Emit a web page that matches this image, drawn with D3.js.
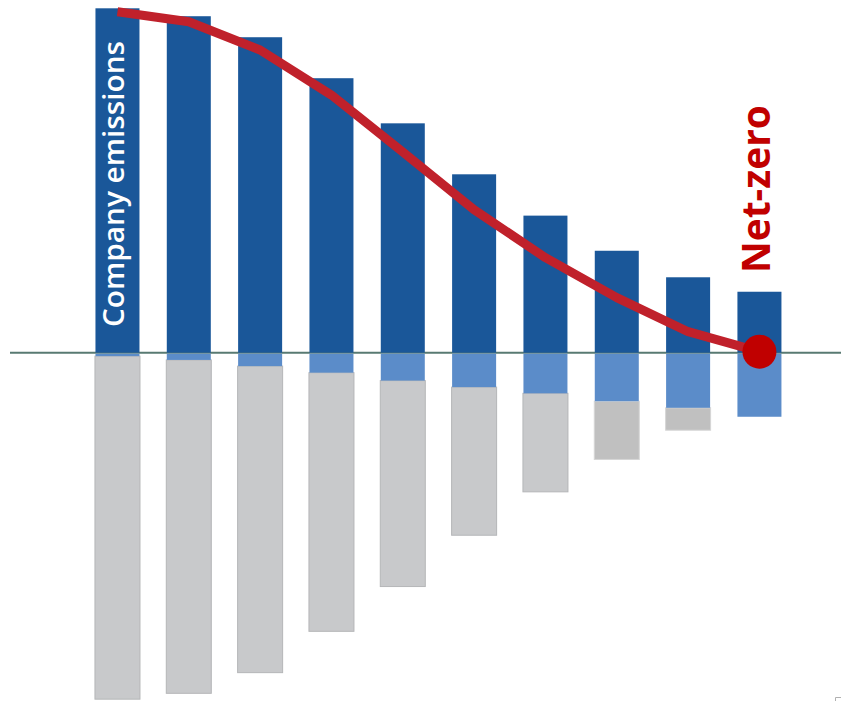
<!DOCTYPE html>
<html>
<head>
<meta charset="utf-8">
<script src="https://cdn.jsdelivr.net/npm/d3@7"></script>
<style>
  html, body { margin: 0; padding: 0; background: #ffffff; }
  svg { display: block; }
</style>
</head>
<body>
<svg id="chart" width="841" height="701"></svg>
<script>
// ---- data (units: first year's emissions = 100) ----
const years = ["Y1", "Y2", "Y3", "Y4", "Y5", "Y6", "Y7", "Y8", "Y9", "Y10"];
const companyEmissions = [100, 97.7, 91.6, 79.7, 66.6, 51.8, 39.8, 29.6, 21.9, 17.7];
const removals         = [1.0, 2.1, 3.9, 5.8, 8.1, 10.0, 11.8, 14.1, 16.0, 18.6];
const reductions       = [99.6, 96.8, 89.0, 75.1, 59.8, 43.0, 28.6, 16.9, 6.5, 0];
const netEmissions     = [99.0, 96.1, 87.9, 74.8, 58.3, 41.5, 27.6, 16.0, 6.1, 0.3];
const grossLabel = "Company emissions";
const netLabel = "Net-zero";

// ---- layout ----
const svg = d3.select("#chart");
const x = d3.scaleBand()
  .domain(years)
  .range([81.8, 795.1])
  .paddingInner(0.383)
  .paddingOuter(0.1915);
const y = d3.scaleLinear().domain([0, 100]).range([352.7, 8.3]);

const colDark = "#1a5799";
const colLight = "#5b8cc9";
const colGray = "#c8c9cb";
const colGrayAlt = "#c0c0c0";
const colRed = "#c0212b";
const colDot = "#c00000";

// baseline
svg.append("line")
  .attr("x1", 10).attr("x2", 841)
  .attr("y1", y(0)).attr("y2", y(0))
  .attr("stroke", "#587a72").attr("stroke-width", 2);

// gray reduction bars (below removals)
svg.append("g").selectAll("rect")
  .data(years.map((d, i) => ({ k: d, i, top: -removals[i], bot: -(removals[i] + reductions[i]) })))
  .join("rect")
  .filter(d => reductions[d.i] > 0)
  .attr("x", d => x(d.k) - 0.5)
  .attr("width", x.bandwidth() + 1)
  .attr("y", d => y(d.top))
  .attr("height", d => y(d.bot) - y(d.top))
  .attr("fill", d => d.i >= 7 ? colGrayAlt : colGray)
  .attr("stroke", d => d.i >= 7 ? "#d6d6d6" : "#b5b6b8")
  .attr("stroke-width", 1);

// dark emission bars
svg.append("g").selectAll("rect")
  .data(years.map((d, i) => ({ k: d, v: companyEmissions[i] })))
  .join("rect")
  .attr("x", d => x(d.k))
  .attr("width", x.bandwidth())
  .attr("y", d => y(d.v))
  .attr("height", d => y(0) - y(d.v))
  .attr("fill", colDark);

// light removal bars
svg.append("g").selectAll("rect")
  .data(years.map((d, i) => ({ k: d, v: removals[i] })))
  .join("rect")
  .attr("x", d => x(d.k))
  .attr("width", x.bandwidth())
  .attr("y", y(0) + 1)
  .attr("height", d => y(-d.v) - y(0) - 1)
  .attr("fill", colLight);

// gross label inside first bar
const cx0 = x(years[0]) + x.bandwidth() / 2;
svg.append("text")
  .attr("transform", `translate(${cx0 + 7},${327}) rotate(-90)`)
  .attr("font-family", "'Open Sans', sans-serif")
  .attr("font-weight", 600)
  .attr("font-size", 29)
  .attr("fill", "#ffffff")
  .attr("textLength", 286)
  .attr("lengthAdjust", "spacingAndGlyphs")
  .text(grossLabel);

// net line
const line = d3.line()
  .x((d, i) => x(years[i]) + x.bandwidth() / 2)
  .y(d => y(d))
  .curve(d3.curveLinear);
svg.append("path")
  .datum(netEmissions)
  .attr("d", line)
  .attr("fill", "none")
  .attr("stroke", colRed)
  .attr("stroke-width", 9)
  .attr("stroke-linejoin", "round");

// net-zero dot
const last = years.length - 1;
svg.append("circle")
  .attr("cx", x(years[last]) + x.bandwidth() / 2)
  .attr("cy", y(netEmissions[last]))
  .attr("r", 17)
  .attr("fill", colDot);

// net-zero label
svg.append("text")
  .attr("transform", `translate(${770},${273}) rotate(-90)`)
  .attr("font-family", "'Open Sans', sans-serif")
  .attr("font-weight", "bold")
  .attr("font-size", 40)
  .attr("fill", colDot)
  .attr("textLength", 168)
  .attr("lengthAdjust", "spacingAndGlyphs")
  .text(netLabel);

// small corner mark at bottom right
svg.append("path")
  .attr("d", "M835.5,701 V697.5 H841")
  .attr("fill", "none")
  .attr("stroke", "#b0b0b0")
  .attr("stroke-width", 1);
</script>
</body>
</html>
